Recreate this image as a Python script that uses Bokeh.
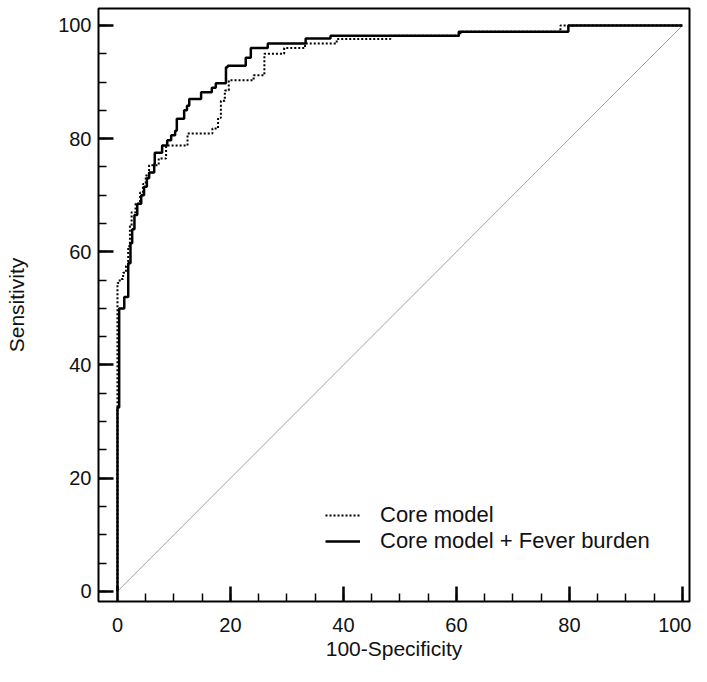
from bokeh.plotting import figure
from bokeh.models import FixedTicker, Legend, LegendItem, Range1d
from bokeh.embed import file_html
from bokeh.resources import INLINE

# ROC step points: x = 100-Specificity where curve rises, y = Sensitivity reached
core_fpr = [0, 0, 0.4, 1.0, 1.5, 1.9, 2.2, 2.5, 3.2, 4.0, 4.5, 5.0, 5.6, 7.3, 8.6,
            12.4, 16.8, 17.8, 18.3, 19.0, 19.7, 24.1, 26.0, 29.5, 33.2, 38.8, 48.3,
            60.7, 78.4, 100]
core_tpr = [0, 54.5, 55.2, 56.3, 57.5, 61.0, 64.5, 67.0, 68.5, 70.5, 72.0, 73.5, 75.3,
            76.5, 78.8, 80.9, 81.8, 83.7, 86.7, 88.5, 90.3, 91.2, 95.0, 96.0, 96.8,
            97.6, 98.2, 98.9, 100, 100]

fever_fpr = [0, 0, 0.3, 1.2, 1.9, 2.3, 2.6, 3.0, 3.5, 4.2, 4.7, 5.2, 5.6, 6.5, 6.6,
             7.9, 8.8, 9.5, 10.2, 10.5, 11.8, 12.3, 12.7, 14.8, 16.7, 17.4, 19.2,
             19.5, 22.7, 23.6, 26.6, 33.3, 37.7, 60.4, 79.8, 100]
fever_tpr = [0, 32.5, 50.0, 52.0, 58.0, 61.5, 64.0, 66.5, 68.5, 70.0, 71.5, 73.0, 74.0,
             75.5, 77.5, 78.8, 79.7, 80.6, 81.4, 83.5, 85.0, 85.8, 87.0, 88.2, 89.0,
             89.8, 92.6, 92.9, 94.3, 96.0, 96.8, 97.7, 98.2, 98.9, 100, 100]

ref_x = [0, 100]
ref_y = [0, 100]

major_ticks = [0, 20, 40, 60, 80, 100]
minor_ticks = [v for v in range(0, 101, 5)]
labels = ["Core model", "Core model + Fever burden"]

FONT = "Liberation Sans"
TXT = "#111111"

p = figure(width=691, height=666,
           x_range=Range1d(-3.36, 101.24), y_range=Range1d(-1.8, 103.0),
           output_backend="svg", toolbar_location=None,
           min_border_left=98, min_border_right=2, min_border_top=8,
           min_border_bottom=65)

p.grid.visible = False
p.outline_line_color = "black"
p.outline_line_width = 2
p.background_fill_color = "white"
p.border_fill_color = "white"

p.line(ref_x, ref_y, line_color="#a0a0a0", line_width=1)

r1 = p.step(core_fpr, core_tpr, mode="after", line_color="black",
            line_width=2, line_dash="2 2")
r2 = p.step(fever_fpr, fever_tpr, mode="after", line_color="black",
            line_width=2.5)

for ax in (p.xaxis[0], p.yaxis[0]):
    ax.ticker = FixedTicker(ticks=major_ticks, minor_ticks=minor_ticks)
    ax.axis_line_color = None
    ax.major_tick_in = 15
    ax.major_tick_out = 0
    ax.minor_tick_in = 8
    ax.minor_tick_out = 0
    ax.major_tick_line_color = "black"
    ax.major_tick_line_width = 2.5
    ax.minor_tick_line_color = "black"
    ax.minor_tick_line_width = 1.5
    ax.major_label_text_font = FONT
    ax.major_label_text_font_size = "20px"
    ax.major_label_text_color = TXT
    ax.axis_label_text_font = FONT
    ax.axis_label_text_font_size = "21px"
    ax.axis_label_text_font_style = "normal"
    ax.axis_label_text_color = TXT

p.xaxis.axis_label = "100-Specificity"
p.yaxis.axis_label = "Sensitivity"
p.xaxis.major_label_standoff = 16
p.xaxis.axis_label_standoff = 2
p.yaxis.major_label_standoff = 7
p.yaxis.axis_label_standoff = 27

legend = Legend(items=[LegendItem(label=labels[0], renderers=[r1]),
                       LegendItem(label=labels[1], renderers=[r2])],
                location=(227, 47), border_line_color=None,
                background_fill_alpha=0, padding=0, margin=0, spacing=0,
                glyph_width=35, glyph_height=20, label_height=20,
                label_standoff=20, label_text_font=FONT,
                label_text_font_size="22px", label_text_color=TXT)
p.add_layout(legend)

open("out.html", "w").write(file_html(p, INLINE))
